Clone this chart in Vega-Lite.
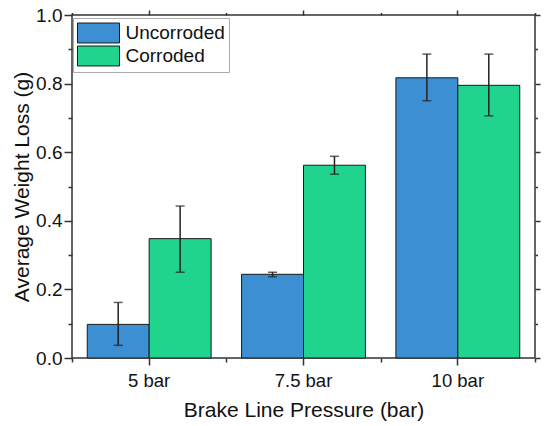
{
  "$schema": "https://vega.github.io/schema/vega-lite/v6.json",
  "width": 463,
  "height": 343,
  "autosize": "none",
  "padding": {"left": 72, "top": 15, "right": 15, "bottom": 68},
  "background": "white",
  "config": {
    "font": "Liberation Sans",
    "view": {"stroke": "#333333", "strokeWidth": 1.5},
    "axis": {"grid": false, "domain": false, "tickColor": "#333333", "tickWidth": 1.5, "labelColor": "#111111", "titleColor": "#111111", "labelFont": "Liberation Sans", "titleFont": "Liberation Sans", "titleFontWeight": "normal"}
  },
  "data": {
    "values": [
      {"pressure": "5 bar", "group": "Uncorroded", "mean": 0.098, "lo": 0.037, "hi": 0.162},
      {"pressure": "5 bar", "group": "Corroded", "mean": 0.348, "lo": 0.25, "hi": 0.443},
      {"pressure": "7.5 bar", "group": "Uncorroded", "mean": 0.244, "lo": 0.237, "hi": 0.25},
      {"pressure": "7.5 bar", "group": "Corroded", "mean": 0.562, "lo": 0.536, "hi": 0.588},
      {"pressure": "10 bar", "group": "Uncorroded", "mean": 0.817, "lo": 0.75, "hi": 0.886},
      {"pressure": "10 bar", "group": "Corroded", "mean": 0.795, "lo": 0.706, "hi": 0.886}
    ]
  },
  "layer": [
    {
      "mark": {"type": "bar", "stroke": "#1a1a1a", "strokeWidth": 1, "opacity": 1},
      "encoding": {
        "x": {"field": "pressure", "type": "nominal", "sort": ["5 bar", "7.5 bar", "10 bar"],
          "scale": {"paddingInner": 0, "paddingOuter": 0},
          "axis": {"orient": "bottom", "title": "Brake Line Pressure (bar)", "labelAngle": 0, "labelFontSize": 18.5, "titleFontSize": 21, "tickSize": 7, "labelPadding": 6, "titlePadding": 10}},
        "xOffset": {"field": "group", "type": "nominal", "sort": ["Uncorroded", "Corroded"], "scale": {"paddingInner": 0, "paddingOuter": 0.246}},
        "y": {"field": "mean", "type": "quantitative", "scale": {"domain": [0, 1], "nice": false, "zero": true},
          "axis": {"orient": "left", "title": "Average Weight Loss (g)", "values": [0, 0.2, 0.4, 0.6, 0.8, 1.0], "format": ".1f", "labelFontSize": 19, "titleFontSize": 21, "tickSize": 8, "labelPadding": 2, "titlePadding": 3}},
        "color": {"field": "group", "type": "nominal", "sort": ["Uncorroded", "Corroded"],
          "scale": {"domain": ["Uncorroded", "Corroded"], "range": ["#3b8fd2", "#20d48e"]},
          "legend": {"title": null, "orient": "none", "legendX": 1, "legendY": 3, "direction": "vertical",
            "symbolType": "M-2,-0.95H2V0.95H-2Z", "symbolSize": 441, "symbolOffset": 10.5, "symbolStrokeColor": "#1a1a1a", "symbolStrokeWidth": 1, "symbolOpacity": 1,
            "labelFontSize": 19, "labelFont": "Liberation Sans", "labelColor": "#111111", "labelOffset": 16, "rowPadding": -2,
            "padding": 4, "strokeColor": "#aaaaaa", "fillColor": "white"}}
      }
    },
    {
      "mark": {"type": "rule", "color": "#222222", "strokeWidth": 1.5},
      "encoding": {
        "x": {"field": "pressure", "type": "nominal", "sort": ["5 bar", "7.5 bar", "10 bar"],
          "axis": {"orient": "bottom", "title": null, "labels": false, "tickBand": "extent", "tickSize": 4}},
        "xOffset": {"field": "group", "type": "nominal", "sort": ["Uncorroded", "Corroded"]},
        "y": {"field": "lo", "type": "quantitative",
          "axis": {"orient": "right", "title": null, "labels": false, "values": [0, 0.2, 0.4, 0.6, 0.8, 1.0], "tickSize": 5}},
        "y2": {"field": "hi"}
      }
    },
    {
      "mark": {"type": "tick", "color": "#222222", "thickness": 1.5, "size": 9, "orient": "horizontal"},
      "encoding": {
        "x": {"field": "pressure", "type": "nominal", "sort": ["5 bar", "7.5 bar", "10 bar"],
          "axis": {"orient": "top", "title": null, "labels": false, "tickSize": 5}},
        "xOffset": {"field": "group", "type": "nominal", "sort": ["Uncorroded", "Corroded"]},
        "y": {"field": "hi", "type": "quantitative",
          "axis": {"orient": "left", "title": null, "labels": false, "values": [0.1, 0.3, 0.5, 0.7, 0.9], "tickSize": 4}}
      }
    },
    {
      "mark": {"type": "tick", "color": "#222222", "thickness": 1.5, "size": 9, "orient": "horizontal"},
      "encoding": {
        "x": {"field": "pressure", "type": "nominal", "sort": ["5 bar", "7.5 bar", "10 bar"],
          "axis": {"orient": "top", "title": null, "labels": false, "tickBand": "extent", "tickSize": 2.5}},
        "xOffset": {"field": "group", "type": "nominal", "sort": ["Uncorroded", "Corroded"]},
        "y": {"field": "lo", "type": "quantitative",
          "axis": {"orient": "right", "title": null, "labels": false, "values": [0.1, 0.3, 0.5, 0.7, 0.9], "tickSize": 2.5}}
      }
    }
  ],
  "resolve": {"axis": {"x": "independent", "y": "independent"}}
}
